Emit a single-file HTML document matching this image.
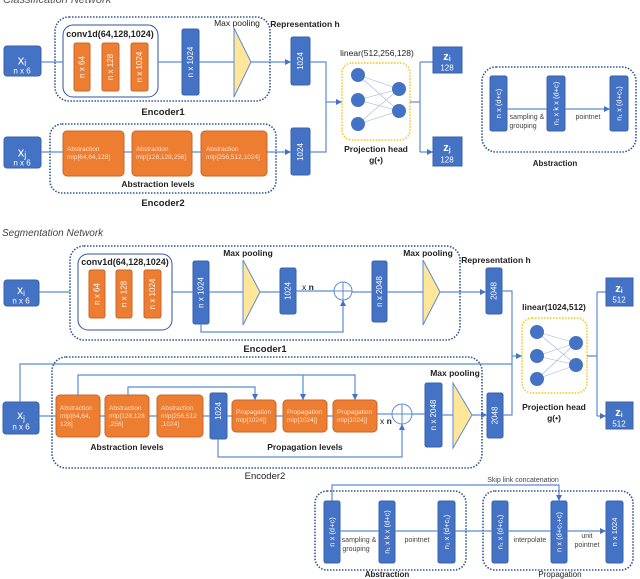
<!DOCTYPE html>
<html><head><meta charset="utf-8"><style>
body{margin:0;background:#fff}
svg{display:block;font-family:"Liberation Sans",sans-serif}
.b{fill:#4472c4;stroke:#3a62a8;stroke-width:1}
.o{fill:#ed7d31;stroke:#c8652a;stroke-width:1}
.d{fill:none;stroke:#2f5597;stroke-width:1.6;stroke-dasharray:1.5 1.5}
.l{fill:none;stroke:#5b8bd6;stroke-width:1.2}
.vt{fill:#fff;text-anchor:middle;dominant-baseline:central}
.lb{font-weight:bold;fill:#222;text-anchor:middle}
.sm{fill:#444;text-anchor:middle;font-size:7px}
.tri{fill:#ffe699;stroke:#5b8bd6;stroke-width:1}
.c{fill:#4472c4}
.nl{stroke:#9db7e6;stroke-width:0.6}
</style></head><body>
<svg width="640" height="579" viewBox="0 0 640 579" xmlns="http://www.w3.org/2000/svg">
<defs><marker id="a" markerWidth="6" markerHeight="6" refX="5" refY="3" orient="auto"><path d="M0,0.5 L5,3 L0,5.5z" fill="#4472c4"/></marker></defs>
<text x="3" y="3" font-size="11" font-style="italic" fill="#555">Classification Network</text>

<!-- ===== Classification ===== -->
<rect x="4" y="46" width="37" height="30" rx="3" class="b"/>
<text x="22" y="60" class="vt" font-size="13">x<tspan font-size="9" dy="3">i</tspan></text>
<text x="22" y="71" class="vt" font-size="8">n x 6</text>
<rect x="55" y="17" width="215" height="84" rx="14" class="d"/>
<rect x="63" y="25" width="95" height="72" rx="10" fill="none" stroke="#2f5597" stroke-width="1"/>
<text x="110" y="37" font-size="9" font-weight="bold" text-anchor="middle" fill="#222">conv1d(64,128,1024)</text>
<rect x="74" y="43" width="16" height="48" rx="2" class="o"/><text class="vt" font-size="8" transform="translate(82,67) rotate(-90)">n x 64</text>
<rect x="102" y="43" width="17" height="48" rx="2" class="o"/><text class="vt" font-size="8" transform="translate(110.5,67) rotate(-90)">n x 128</text>
<rect x="131" y="43" width="17" height="48" rx="2" class="o"/><text class="vt" font-size="8" transform="translate(139.5,67) rotate(-90)">n x 1024</text>
<rect x="182" y="29" width="17" height="66" rx="2" class="b"/><text class="vt" font-size="8" transform="translate(190.5,62) rotate(-90)">n x 1024</text>
<polygon points="234,28 251,62 234,97" class="tri"/>
<text x="237" y="26" font-size="8.5" text-anchor="middle" fill="#222">Max pooling</text>
<text x="163" y="115" class="lb" font-size="9.5">Encoder1</text>
<text x="305" y="27" font-size="8.5" text-anchor="middle" font-weight="bold" fill="#222">Representation h</text>
<rect x="291" y="37" width="19" height="48" rx="2" class="b"/><text class="vt" font-size="8" transform="translate(300.5,61) rotate(-90)">1024</text>
<path d="M41,62 H63 M158,62 H182 M199,62 H234 M251,62 H291" class="l" marker-end="url(#a)"/>

<rect x="4" y="137" width="37" height="31" rx="3" class="b"/>
<text x="22" y="152" class="vt" font-size="13">x<tspan font-size="9" dy="3">j</tspan></text>
<text x="22" y="163" class="vt" font-size="8">n x 6</text>
<rect x="50" y="124" width="226" height="69" rx="12" class="d"/>
<rect x="63" y="131" width="61" height="45" rx="4" class="o"/>
<rect x="132" y="131" width="60" height="45" rx="4" class="o"/>
<rect x="201" y="131" width="66" height="45" rx="4" class="o"/>
<g font-size="6.5" style="fill:#fbe0cc">
<text x="67" y="151">Abstraction</text><text x="67" y="159">mlp[64,64,128]</text>
<text x="136" y="151">Abstraction</text><text x="136" y="159">mlp[128,128,256]</text>
<text x="206" y="151">Abstraction</text><text x="206" y="159">mlp[256,512,1024]</text></g>
<text x="158" y="187" class="lb" font-size="8.5">Abstraction levels</text>
<text x="163" y="206" class="lb" font-size="9.5">Encoder2</text>
<rect x="291" y="128" width="19" height="47" rx="2" class="b"/><text class="vt" font-size="8" transform="translate(300.5,152) rotate(-90)">1024</text>
<path d="M41,152 H63 M124,152 H132 M192,152 H201 M267,152 H291" class="l" marker-end="url(#a)"/>
<path d="M310,62 H326 V152 H310" class="l"/>
<path d="M326,102 H342" class="l" marker-end="url(#a)"/>
<rect x="342" y="63" width="68" height="77" rx="10" fill="none" stroke="#ffc000" stroke-width="1.4" stroke-dasharray="1.5 1.5"/>
<g class="nl"><path d="M358,75 L399,89 M358,75 L399,111 M358,100 L399,89 M358,100 L399,111 M358,124 L399,89 M358,124 L399,111"/></g>
<circle cx="358" cy="75" r="7" class="c"/><circle cx="358" cy="100" r="7" class="c"/><circle cx="358" cy="124" r="7" class="c"/>
<circle cx="399" cy="89" r="7" class="c"/><circle cx="399" cy="111" r="7" class="c"/>
<text x="377" y="56" font-size="8.5" text-anchor="middle" fill="#222">linear(512,256,128)</text>
<text x="376" y="152" class="lb" font-size="8.5">Projection head</text>
<text x="376" y="163" class="lb" font-size="8.5">g(•)</text>
<path d="M410,102 H420" class="l"/><path d="M420,62 V152" class="l"/>
<path d="M420,62 H433 M420,152 H433" class="l" marker-end="url(#a)"/>
<rect x="433" y="47" width="29" height="26" class="b"/>
<text x="447" y="57" class="vt" font-size="11" font-weight="bold">z<tspan font-size="7" dy="2">i</tspan></text><text x="447" y="68" class="vt" font-size="8">128</text>
<rect x="433" y="137" width="29" height="29" class="b"/>
<text x="447" y="148" class="vt" font-size="11" font-weight="bold">z<tspan font-size="7" dy="2">j</tspan></text><text x="447" y="160" class="vt" font-size="8">128</text>

<rect x="482" y="67" width="154" height="85" rx="14" class="d"/>
<rect x="490" y="76" width="17" height="55" rx="2" class="b"/><text class="vt" font-size="7.5" transform="translate(498.5,103.5) rotate(-90)">n x (d+c)</text>
<rect x="547" y="76" width="18" height="55" rx="2" class="b"/><text class="vt" font-size="7.5" transform="translate(556,103.5) rotate(-90)">n₁ x k x (d+c)</text>
<rect x="610" y="76" width="18" height="55" rx="2" class="b"/><text class="vt" font-size="7.5" transform="translate(619,103.5) rotate(-90)">n₁ x (d+c₁)</text>
<path d="M507,109 H547 M565,109 H610" class="l" marker-end="url(#a)"/>
<text x="527" y="119" class="sm" font-size="6">sampling &amp;</text><text x="523" y="128" class="sm" font-size="6">grouping</text>
<text x="588" y="119" class="sm" font-size="6">pointnet</text>
<text x="555" y="166" class="lb" font-size="8">Abstraction</text>

<!-- ===== Segmentation ===== -->
<text x="2" y="236" font-size="10" font-style="italic" fill="#444">Segmentation Network</text>
<rect x="4" y="280" width="35" height="26" rx="3" class="b"/>
<text x="21" y="290" class="vt" font-size="12">x<tspan font-size="8" dy="3">i</tspan></text>
<text x="21" y="301" class="vt" font-size="8">n x 6</text>
<rect x="70" y="246" width="390" height="94" rx="14" class="d"/>
<rect x="78" y="254" width="94" height="76" rx="10" fill="none" stroke="#2f5597" stroke-width="1"/>
<text x="125" y="265" font-size="9" font-weight="bold" text-anchor="middle" fill="#222">conv1d(64,128,1024)</text>
<rect x="89" y="270" width="16" height="48" rx="2" class="o"/><text class="vt" font-size="8" transform="translate(97,294) rotate(-90)">n x 64</text>
<rect x="116" y="270" width="16" height="48" rx="2" class="o"/><text class="vt" font-size="8" transform="translate(124,294) rotate(-90)">n x 128</text>
<rect x="144" y="270" width="17" height="48" rx="2" class="o"/><text class="vt" font-size="8" transform="translate(152.5,294) rotate(-90)">n x 1024</text>
<rect x="193" y="261" width="16" height="63" rx="2" class="b"/><text class="vt" font-size="8" transform="translate(201,292.5) rotate(-90)">n x 1024</text>
<polygon points="243,260 260,292 243,325" class="tri"/>
<text x="248" y="256" font-size="8.5" text-anchor="middle" font-weight="bold" fill="#222">Max pooling</text>
<rect x="280" y="268" width="16" height="46" rx="2" class="b"/><text class="vt" font-size="8" transform="translate(288,291) rotate(-90)">1024</text>
<text x="302" y="290" font-size="8.5" fill="#222">x <tspan font-weight="bold">n</tspan></text>
<circle cx="343" cy="291" r="9" fill="#fff" stroke="#5b8bd6" stroke-width="1"/><path d="M334,291 H352 M343,282 V300" stroke="#5b8bd6" stroke-width="1"/>
<rect x="372" y="261" width="15" height="61" rx="2" class="b"/><text class="vt" font-size="8" transform="translate(379.5,291.5) rotate(-90)">n x 2048</text>
<polygon points="423,260 440,292 423,325" class="tri"/>
<text x="428" y="256" font-size="8.5" text-anchor="middle" font-weight="bold" fill="#222">Max pooling</text>
<text x="496" y="263" font-size="8.5" text-anchor="middle" font-weight="bold" fill="#222">Representation h</text>
<rect x="486" y="268" width="16" height="46" rx="2" class="b"/><text class="vt" font-size="8" transform="translate(494,291) rotate(-90)">2048</text>
<path d="M39,292 H70 M172,292 H193 M209,292 H243 M260,292 H280 M352,292 H372 M387,292 H423 M440,292 H486" class="l" marker-end="url(#a)"/>
<path d="M201,324 V332 H343 V300" class="l" marker-end="url(#a)"/>
<path d="M296,291 H334" class="l"/>
<text x="265" y="352" class="lb" font-size="9.5">Encoder1</text>

<rect x="3" y="402" width="36" height="32" rx="3" class="b"/>
<text x="21" y="415" class="vt" font-size="12">x<tspan font-size="8" dy="3">j</tspan></text>
<text x="21" y="427" class="vt" font-size="8">n x 6</text>
<rect x="52" y="357" width="430" height="111" rx="14" class="d"/>
<rect x="56" y="395" width="44" height="42" rx="4" class="o"/>
<rect x="105" y="395" width="44" height="42" rx="4" class="o"/>
<rect x="157" y="395" width="46" height="42" rx="4" class="o"/>
<rect x="210" y="393" width="17" height="46" rx="2" class="b"/><text class="vt" font-size="8" transform="translate(218.5,411) rotate(-90)">1024</text>
<rect x="232" y="400" width="44" height="32" rx="4" class="o"/>
<rect x="283" y="400" width="44" height="32" rx="4" class="o"/>
<rect x="333" y="400" width="44" height="32" rx="4" class="o"/>
<g font-size="6.5" style="fill:#fbe0cc">
<text x="60" y="410">Abstraction</text><text x="60" y="418">mlp[64,64,</text><text x="60" y="426">128]</text>
<text x="109" y="410">Abstraction</text><text x="109" y="418">mlp[128,128</text><text x="109" y="426">,256]</text>
<text x="161" y="410">Abstraction</text><text x="161" y="418">mlp[256,512</text><text x="161" y="426">,1024]</text>
<text x="236" y="414">Propagation</text><text x="236" y="422">mlp[1024]]</text>
<text x="287" y="414">Propagation</text><text x="287" y="422">mlp[1024]]</text>
<text x="337" y="414">Propagation</text><text x="337" y="422">mlp[1024]]</text></g>
<text x="380" y="424" font-size="8.5" fill="#222">x <tspan font-weight="bold">n</tspan></text>
<circle cx="402" cy="414" r="10" fill="#fff" stroke="#5b8bd6" stroke-width="1"/><path d="M392,414 H412 M402,404 V424" stroke="#5b8bd6" stroke-width="1"/>
<rect x="425" y="383" width="17" height="64" rx="2" class="b"/><text class="vt" font-size="8" transform="translate(433.5,415) rotate(-90)">n x 2048</text>
<polygon points="453,383 472,415 453,448" class="tri"/>
<text x="455" y="376" font-size="8.5" text-anchor="middle" font-weight="bold" fill="#222">Max pooling</text>
<rect x="487" y="393" width="16" height="45" rx="2" class="b"/><text class="vt" font-size="8" transform="translate(495,415.5) rotate(-90)">2048</text>
<path d="M39,416 H56 M100,416 H105 M149,416 H157 M203,416 H210 M227,416 H232 M276,416 H283 M327,416 H333 M412,414 H425 M442,415 H453 M472,415 H487" class="l" marker-end="url(#a)"/>
<path d="M377,414 H392" class="l"/>
<path d="M218,439 V457 H402 V424" class="l" marker-end="url(#a)"/>
<path d="M78,395 V375 H355 V400" class="l" marker-end="url(#a)"/>
<path d="M303,375 V400" class="l" marker-end="url(#a)"/>
<path d="M128,395 V387 H255 V400" class="l" marker-end="url(#a)"/>
<path d="M20,402 V364 H512" class="l"/>
<text x="127" y="450" class="lb" font-size="8.5">Abstraction levels</text>
<text x="305" y="450" class="lb" font-size="8.5">Propagation levels</text>
<text x="265" y="479" font-size="9.5" text-anchor="middle" fill="#222">Encoder2</text>

<path d="M502,291 H512 V415 H503" class="l"/>
<path d="M512,356 H522" class="l" marker-end="url(#a)"/>
<rect x="522" y="318" width="65" height="75" rx="10" fill="none" stroke="#ffc000" stroke-width="1.4" stroke-dasharray="1.5 1.5"/>
<g class="nl"><path d="M537,332 L576,343 M537,332 L576,365 M537,356 L576,343 M537,356 L576,365 M537,379 L576,343 M537,379 L576,365"/></g>
<circle cx="537" cy="332" r="7" class="c"/><circle cx="537" cy="356" r="7" class="c"/><circle cx="537" cy="379" r="7" class="c"/>
<circle cx="576" cy="343" r="7" class="c"/><circle cx="576" cy="365" r="7" class="c"/>
<text x="554" y="310" font-size="8.5" text-anchor="middle" font-weight="bold" fill="#222">linear(1024,512)</text>
<text x="554" y="410" class="lb" font-size="8.5">Projection head</text>
<text x="554" y="421" class="lb" font-size="8.5">g(•)</text>
<path d="M587,356 H597 M597,292 V416" class="l"/>
<path d="M597,292 H606 M597,416 H606" class="l" marker-end="url(#a)"/>
<rect x="606" y="278" width="27" height="28" class="b"/>
<text x="619" y="289" class="vt" font-size="11" font-weight="bold">z<tspan font-size="7" dy="2">i</tspan></text><text x="619" y="300" class="vt" font-size="8">512</text>
<rect x="606" y="402" width="27" height="27" class="b"/>
<text x="619" y="413" class="vt" font-size="11" font-weight="bold">z<tspan font-size="7" dy="2">i</tspan></text><text x="619" y="424" class="vt" font-size="8">512</text>

<!-- bottom -->
<text x="523" y="482" class="sm" font-size="6">Skip link concatenation</text>
<path d="M332,501 V485 H559 V501" class="l" marker-end="url(#a)"/>
<rect x="315" y="491" width="151" height="79" rx="12" class="d"/>
<rect x="483" y="491" width="150" height="79" rx="12" class="d"/>
<rect x="324" y="501" width="16" height="62" rx="2" class="b"/><text class="vt" font-size="7.5" transform="translate(332,532) rotate(-90)">n x (d+c)</text>
<rect x="379" y="501" width="16" height="62" rx="2" class="b"/><text class="vt" font-size="7.5" transform="translate(387,532) rotate(-90)">n₁ x k x (d+c)</text>
<rect x="438" y="501" width="17" height="62" rx="2" class="b"/><text class="vt" font-size="7.5" transform="translate(446.5,532) rotate(-90)">n₁ x (d+c₁)</text>
<rect x="492" y="501" width="16" height="62" rx="2" class="b"/><text class="vt" font-size="7.5" transform="translate(500,532) rotate(-90)">n₁ x (d+c₁)</text>
<rect x="551" y="501" width="16" height="62" rx="2" class="b"/><text class="vt" font-size="7.5" transform="translate(559,532) rotate(-90)">n x (d+c₁+c)</text>
<rect x="606" y="501" width="17" height="62" rx="2" class="b"/><text class="vt" font-size="7.5" transform="translate(614.5,532) rotate(-90)">n x 1024</text>
<path d="M340,531 H379 M395,531 H438 M455,531 H492 M508,531 H551 M567,531 H606" class="l" marker-end="url(#a)"/>
<text x="359" y="542" class="sm" font-size="6">sampling &amp;</text><text x="356" y="551" class="sm" font-size="6">grouping</text>
<text x="417" y="542" class="sm" font-size="6">pointnet</text>
<text x="530" y="542" class="sm" font-size="6">interpolate</text>
<text x="587" y="538" class="sm" font-size="6">unit</text><text x="587" y="547" class="sm" font-size="6">pointnet</text>
<text x="387" y="577" class="lb" font-size="8">Abstraction</text>
<text x="560" y="577" font-size="8" text-anchor="middle" fill="#222">Propagation</text>
</svg>
</body></html>
